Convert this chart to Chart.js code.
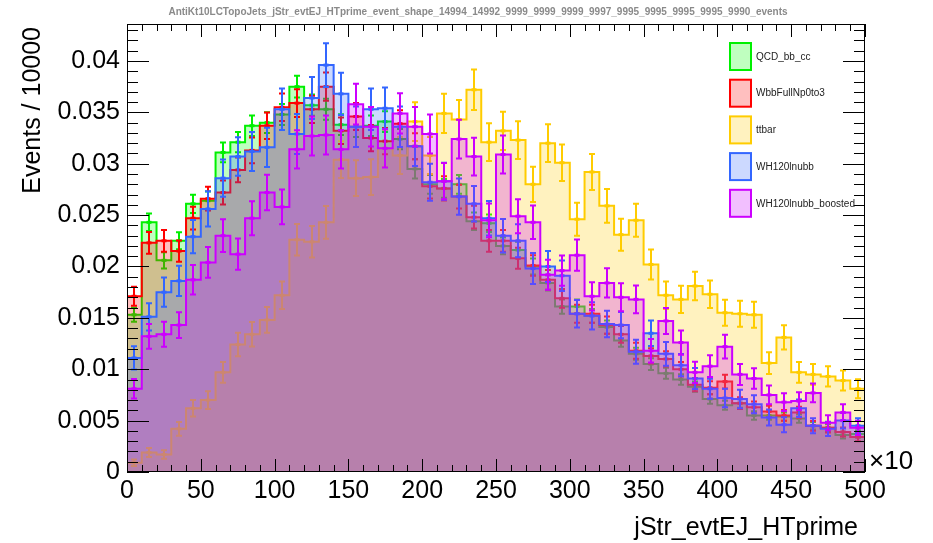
<!DOCTYPE html>
<html><head><meta charset="utf-8">
<script src="https://cdn.jsdelivr.net/npm/chart.js@4.4.0/dist/chart.umd.min.js"></script>
<style>html,body{margin:0;padding:0;background:#fff;overflow:hidden}#wrap{width:933px;height:543px;position:relative}</style>
</head><body><div id="wrap"><canvas id="c" width="933" height="543"></canvas></div>
<script>
// ---- data (x in units of 10, per-bin normalised event fractions) ----
const binEdges = [0,10,20,30,40,50,60,70,80,90,100,110,120,130,140,150,160,170,180,190,200,210,220,230,240,250,260,270,280,290,300,310,320,330,340,350,360,370,380,390,400,410,420,430,440,450,460,470,480,490,500];
const seriesNames = ['QCD_bb_cc','WbbFullNp0to3','ttbar','WH120lnubb','WH120lnubb_boosted'];
const qcdBbCc = [0.0153,0.0243,0.0206,0.0225,0.0261,0.0264,0.0311,0.0321,0.0337,0.0340,0.0348,0.0375,0.0357,0.0353,0.0338,0.0336,0.0337,0.0341,0.0324,0.0295,0.0280,0.0276,0.0280,0.0244,0.0242,0.0220,0.0216,0.0200,0.0184,0.0161,0.0161,0.0152,0.0141,0.0128,0.0115,0.0105,0.0096,0.0090,0.0083,0.0071,0.0065,0.0067,0.0055,0.0055,0.0054,0.0052,0.0045,0.0043,0.0036,0.0037];
const wbbFull = [0.0171,0.0223,0.0225,0.0215,0.0247,0.0266,0.0272,0.0294,0.0313,0.0337,0.0355,0.0359,0.0353,0.0375,0.0332,0.0346,0.0325,0.0322,0.0339,0.0317,0.0278,0.0276,0.0268,0.0248,0.0225,0.0225,0.0208,0.0201,0.0187,0.0169,0.0154,0.0154,0.0143,0.0134,0.0118,0.0113,0.0110,0.0100,0.0085,0.0082,0.0088,0.0067,0.0063,0.0059,0.0055,0.0058,0.0045,0.0043,0.0039,0.0034];
const ttbar = [0.0009,0.0019,0.0017,0.0042,0.0062,0.0070,0.0097,0.0124,0.0134,0.0148,0.0172,0.0226,0.0224,0.0243,0.0304,0.0286,0.0287,0.0315,0.0308,0.0341,0.0308,0.0349,0.0343,0.0372,0.0321,0.0332,0.0323,0.0280,0.0320,0.0301,0.0246,0.0292,0.0259,0.0231,0.0245,0.0202,0.0172,0.0168,0.0181,0.0173,0.0155,0.0154,0.0153,0.0106,0.0131,0.0097,0.0095,0.0093,0.0089,0.0081];
const wh120 = [0.0111,0.0151,0.0175,0.0186,0.0229,0.0256,0.0286,0.0307,0.0312,0.0316,0.0353,0.0329,0.0364,0.0396,0.0368,0.0336,0.0353,0.0354,0.0336,0.0317,0.0282,0.0283,0.0268,0.0261,0.0247,0.0230,0.0225,0.0198,0.0200,0.0191,0.0154,0.0152,0.0144,0.0143,0.0117,0.0135,0.0115,0.0104,0.0091,0.0081,0.0072,0.0071,0.0066,0.0053,0.0046,0.0062,0.0045,0.0042,0.0050,0.0045];
const wh120Boosted = [0.0081,0.0132,0.0134,0.0143,0.0187,0.0204,0.0230,0.0212,0.0247,0.0272,0.0258,0.0314,0.0327,0.0328,0.0314,0.0358,0.0336,0.0315,0.0349,0.0336,0.0329,0.0283,0.0324,0.0307,0.0245,0.0309,0.0249,0.0243,0.0192,0.0196,0.0211,0.0171,0.0184,0.0170,0.0168,0.0118,0.0147,0.0126,0.0097,0.0103,0.0122,0.0095,0.0091,0.0075,0.0068,0.0069,0.0077,0.0048,0.0058,0.0043];
// statistical (Poisson) error: sigma = sqrt(content * scale), scale per sample
const errScale = [3.0e-5, 5.0e-5, 1.05e-4, 1.15e-4, 1.1e-4];
const xTickValues = [0,50,100,150,200,250,300,350,400,450,500];
const xTickLabels = ['0','50','100','150','200','250','300','350','400','450','500'];
const yTickValues = [0,0.005,0.01,0.015,0.02,0.025,0.03,0.035,0.04];
const yTickLabels = ['0','0.005','0.01','0.015','0.02','0.025','0.03','0.035','0.04'];
const yMax = 0.0436;

const seriesValues = [qcdBbCc, wbbFull, ttbar, wh120, wh120Boosted];
const lineColors = ['rgb(0,240,0)','rgb(255,0,0)','rgb(255,204,0)','rgb(51,102,255)','rgb(204,0,255)'];
const fillColors = ['rgba(0,255,0,0.25)','rgba(255,0,0,0.25)','rgba(255,204,0,0.25)','rgba(51,102,255,0.25)','rgba(204,0,255,0.25)'];

const datasets = seriesValues.map((vals, s) => ({
  label: seriesNames[s],
  data: binEdges.map((e, i) => ({x: e, y: vals[Math.min(i, vals.length - 1)]})),
  stepped: 'before',
  borderColor: lineColors[s],
  backgroundColor: fillColors[s],
  borderWidth: 2,
  fill: 'origin',
  pointRadius: 0,
  order: 5 - s,
  binValues: vals,
  binErrors: vals.map(v => Math.sqrt(v * errScale[s]))
}));

const errPlugin = {
  id: 'errbars',
  afterDatasetDraw(chart, args) {
    const ds = chart.data.datasets[args.index];
    const xs = chart.scales.x, ys = chart.scales.y, ctx = chart.ctx, a = chart.chartArea;
    ctx.save();
    ctx.beginPath(); ctx.rect(a.left, a.top, a.right - a.left, a.bottom - a.top); ctx.clip();
    ctx.strokeStyle = ds.borderColor; ctx.fillStyle = ds.borderColor; ctx.lineWidth = 2;
    ds.binValues.forEach((v, i) => {
      const e = ds.binErrors[i];
      const cx = Math.round(xs.getPixelForValue((binEdges[i] + binEdges[i + 1]) / 2));
      const yt = ys.getPixelForValue(v + e), yb = ys.getPixelForValue(v - e), yc = ys.getPixelForValue(v);
      ctx.beginPath();
      ctx.moveTo(cx, yt); ctx.lineTo(cx, yb);
      ctx.moveTo(cx - 3, yt); ctx.lineTo(cx + 3, yt);
      ctx.moveTo(cx - 3, yb); ctx.lineTo(cx + 3, yb);
      ctx.stroke();
      ctx.fillRect(cx - 2.5, yc - 1.5, 5, 3);
    });
    ctx.restore();
  }
};

const decorPlugin = {
  id: 'decor',
  afterDraw(chart) {
    const {ctx, chartArea: a, scales: {x, y}} = chart;
    ctx.save();
    ctx.strokeStyle = '#000'; ctx.lineWidth = 1;
    ctx.strokeRect(a.left + 0.5, a.top + 0.5, a.right - a.left - 1, a.bottom - a.top - 1);
    ctx.beginPath();
    for (let k = 0; k <= 43; k++) {
      const py = Math.round(y.getPixelForValue(k * 0.001)) + 0.5;
      const len = (k % 5 === 0) ? 22 : 11;
      ctx.moveTo(a.left, py); ctx.lineTo(a.left + len, py);
      ctx.moveTo(a.right, py); ctx.lineTo(a.right - len, py);
    }
    for (let k = 0; k <= 50; k++) {
      const px = Math.round(x.getPixelForValue(k * 10)) + 0.5;
      const len = (k % 5 === 0) ? 13 : 7;
      ctx.moveTo(px, a.bottom); ctx.lineTo(px, a.bottom - len);
      ctx.moveTo(px, a.top); ctx.lineTo(px, a.top + len);
    }
    ctx.stroke();
    ctx.fillStyle = '#8a8a8a';
    ctx.font = 'bold 10px "Liberation Sans", Arial, sans-serif';
    ctx.textAlign = 'center'; ctx.textBaseline = 'middle';
    ctx.fillText('AntiKt10LCTopoJets_jStr_evtEJ_HTprime_event_shape_14994_14992_9999_9999_9999_9997_9995_9995_9995_9995_9990_events', 478, 12);
    ctx.fillStyle = '#000';
    ctx.font = '25px "Liberation Sans", Arial, sans-serif';
    ctx.textAlign = 'right';
    ctx.fillText('jStr_evtEJ_HTprime', 858, 528);
    ctx.save(); ctx.translate(33, 27); ctx.rotate(-Math.PI / 2);
    ctx.fillText('Events / 10000', 0, 0); ctx.restore();
    ctx.font = '26px "Liberation Sans", Arial, sans-serif';
    ctx.textAlign = 'left';
    ctx.fillText('\u00d710', 869, 462);
    ctx.font = '10px "Liberation Sans", Arial, sans-serif';
    seriesNames.forEach((n, i) => {
      const top = 43 + i * 36.7;
      ctx.fillStyle = fillColors[i]; ctx.fillRect(730, top, 21, 27);
      ctx.strokeStyle = lineColors[i]; ctx.lineWidth = 2; ctx.strokeRect(730, top, 21, 27);
      ctx.fillStyle = '#222'; ctx.textAlign = 'left'; ctx.textBaseline = 'middle';
      ctx.fillText(n, 756, top + 14);
    });
    ctx.restore();
  }
};

new Chart(document.getElementById('c'), {
  type: 'line',
  data: {datasets},
  options: {
    responsive: false, animation: false, events: [],
    layout: {padding: {left: 0, top: 24, right: 68, bottom: 0}},
    plugins: {legend: {display: false}, tooltip: {enabled: false}, title: {display: false}},
    scales: {
      x: {
        type: 'linear', min: 0, max: 500, offset: false,
        grid: {display: false, drawTicks: false}, border: {display: false},
        afterBuildTicks: s => { s.ticks = xTickValues.map(v => ({value: v})); },
        afterFit: s => { s.height = 71; },
        ticks: {autoSkip: false, maxRotation: 0, padding: 4, color: '#000',
          font: {family: '"Liberation Sans", Arial, sans-serif', size: 25},
          callback: (v, i) => xTickLabels[i]}
      },
      y: {
        type: 'linear', min: 0, max: yMax,
        grid: {display: false, drawTicks: false}, border: {display: false},
        afterBuildTicks: s => { s.ticks = yTickValues.map(v => ({value: v})); },
        afterFit: s => { s.width = 127; },
        ticks: {autoSkip: false, padding: 7, color: '#000',
          font: {family: '"Liberation Sans", Arial, sans-serif', size: 25},
          callback: (v, i) => yTickLabels[i]}
      }
    }
  },
  plugins: [errPlugin, decorPlugin]
});
</script></body></html>
